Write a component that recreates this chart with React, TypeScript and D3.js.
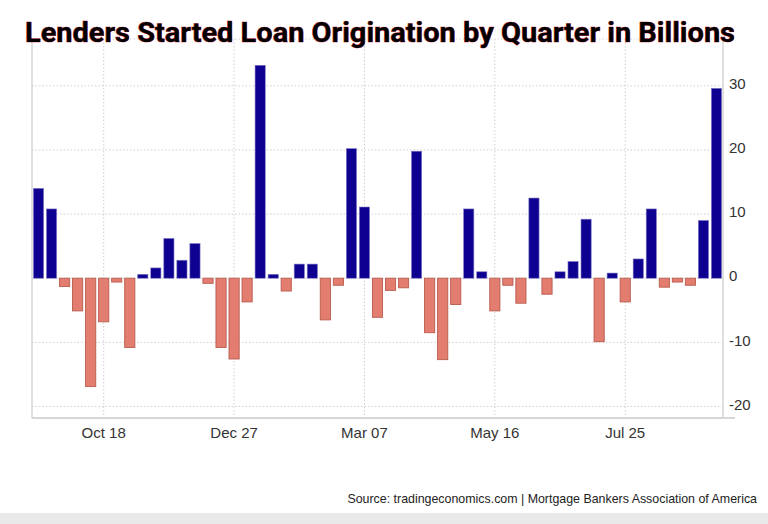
import React from "react";
import * as d3 from "d3";

const barValues: number[] = [
  14.0, 10.8, -1.3, -5.1, -16.9, -6.8, -0.6, -10.8, 0.6, 1.6,
  6.2, 2.8, 5.4, -0.8, -10.8, -12.6, -3.7, 33.2, 0.6, -2.0,
  2.2, 2.2, -6.5, -1.1, 20.2, 11.1, -6.1, -1.9, -1.5, 19.8,
  -8.5, -12.7, -4.1, 10.8, 1.0, -5.1, -1.1, -3.9, 12.5, -2.5,
  1.0, 2.6, 9.2, -9.9, 0.8, -3.7, 3.0, 10.8, -1.4, -0.6,
  -1.1, 9.0, 29.6,
];

const tickIndex: number[] = [5, 15, 25, 35, 45];
const tickLabels: string[] = ["Oct 18", "Dec 27", "Mar 07", "May 16", "Jul 25"];
const yTicks: number[] = [-20, -10, 0, 10, 20, 30];

const title = "Lenders Started Loan Origination by Quarter in Billions";
const source = "Source: tradingeconomics.com | Mortgage Bankers Association of America";

export default function App() {
  const W = 768;
  const H = 524;
  const left = 32;
  const right = 723;
  const top = 39;
  const bottom = 418;

  const idx = barValues.map((_, i) => i);
  const x = d3.scaleBand<number>().domain(idx).range([left, right]).paddingInner(0.22).paddingOuter(0.11);
  const y = d3.scaleLinear().domain([-21.8, 37.3]).range([bottom, top]);
  const font = "'Liberation Sans', Arial, sans-serif";

  return (
    <svg width={W} height={H} style={{ position: "absolute", left: 0, top: 0, background: "#fff" }}>
      <rect x={0} y={513} width={W} height={H - 513} fill="#e9e9e9" />
      {yTicks.map((t) => (
        <line key={"gy" + t} x1={left} x2={right} y1={y(t)} y2={y(t)} stroke="#cfcfcf" strokeDasharray="1.5,2" />
      ))}
      <line x1={left} x2={right} y1={top} y2={top} stroke="#d8d8d8" strokeDasharray="1.5,2" />
      {tickIndex.map((ti) => {
        const cx = (x(ti) as number) + x.bandwidth() / 2;
        return <line key={"gx" + ti} x1={cx} x2={cx} y1={top} y2={bottom} stroke="#cfcfcf" strokeDasharray="1.5,2" />;
      })}
      <line x1={left} x2={left} y1={top} y2={bottom} stroke="#d6d6d6" strokeWidth={1.5} />
      <line x1={right} x2={right} y1={top} y2={bottom} stroke="#d6d6d6" strokeWidth={1.5} />
      {barValues.map((v, i) => {
        const bx = x(i) as number;
        const y0 = y(0);
        const y1 = y(v);
        const pos = v >= 0;
        return (
          <rect
            key={i}
            x={bx}
            y={Math.min(y0, y1)}
            width={x.bandwidth()}
            height={Math.max(1, Math.abs(y1 - y0))}
            fill={pos ? "#0e0090" : "#e27d6f"}
            stroke={pos ? "#7d74c4" : "#b95b4f"}
            strokeWidth={pos ? 0.6 : 0.9}
          />
        );
      })}
      <line x1={left} x2={735} y1={bottom} y2={bottom} stroke="#d6d6d6" strokeWidth={2} />
      {yTicks.map((t) => (
        <text key={"yl" + t} x={729} y={y(t)} dy="0.22em" fontFamily={font} fontSize={15} fill="#333">
          {t}
        </text>
      ))}
      {tickIndex.map((ti, k) => {
        const cx = (x(ti) as number) + x.bandwidth() / 2;
        return (
          <text key={"xl" + ti} x={cx} y={438} textAnchor="middle" fontFamily={font} fontSize={15} fill="#333">
            {tickLabels[k]}
          </text>
        );
      })}
      <text
        x={25}
        y={41.5}
        fontFamily="Roboto, sans-serif"
        fontWeight={700}
        fontSize={28}
        fill="#000"
        stroke="#d0102a"
        strokeWidth={0.7}
        paintOrder="stroke"
        textLength={710}
        lengthAdjust="spacingAndGlyphs"
      >
        {title}
      </text>
      <text x={757} y={503} textAnchor="end" fontFamily={font} fontSize={12.4} fill="#222">
        {source}
      </text>
    </svg>
  );
}
